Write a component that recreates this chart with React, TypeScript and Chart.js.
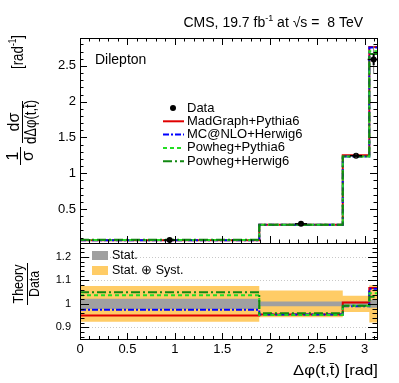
import React, { useEffect, useRef } from "react";
import { Chart, registerables } from "chart.js";

Chart.register(...registerables);

// ---------------- data ----------------
const binEdges = [0, 1.89, 2.77, 3.05, 3.1416];
const dataValues = [0.066, 0.293, 1.245, 2.59];
const dataStatErr = [0.003, 0.006, 0.015, 0.08];
const dataTotErr = [0.005, 0.012, 0.03, 0.19];

const madgraphValues = [0.063, 0.28, 1.253, 2.765];
const mcatnloValues = [0.064, 0.28, 1.233, 2.758];
const powhegPythiaValues = [0.068, 0.279, 1.235, 2.706];
const powhegHerwigValues = [0.069, 0.281, 1.235, 2.668];

const ratioMadGraph = [0.95, 0.955, 1.006, 1.068];
const ratioMCatNLO = [0.975, 0.955, 0.99, 1.065];
const ratioPowhegPythia = [1.037, 0.953, 0.992, 1.045];
const ratioPowhegHerwig = [1.05, 0.96, 0.992, 1.03];

const statErr = [0.022, 0.01, 0.01, 0.017];
const totalErr = [0.076, 0.057, 0.035, 0.08];

const topYTicks = [0.5, 1, 1.5, 2, 2.5];
const ratioYTicks = [0.9, 1, 1.1, 1.2];
const xTicks = [0, 0.5, 1, 1.5, 2, 2.5, 3];

const seriesLabels = ["MadGraph+Pythia6", "MC@NLO+Herwig6", "Powheg+Pythia6", "Powheg+Herwig6"];
const seriesColors = ["#e00000", "#0000ff", "#22dd22", "#118811"];
const seriesDashes: number[][] = [[], [6, 2, 2, 2], [4, 3], [9, 3, 2, 3]];

// ---------------- helpers ----------------
const FONT = '"Liberation Sans", Arial, Helvetica, sans-serif';
const font = (s: number) => `${s}px ${FONT}`;

const stepPoints = (values: number[]) =>
  binEdges.map((e, i) => ({ x: e, y: values[Math.min(i, values.length - 1)] }));
const binCenters = binEdges.slice(0, -1).map((e, i) => (e + binEdges[i + 1]) / 2);

function drawFrame(ctx: CanvasRenderingContext2D, a: any) {
  ctx.save();
  ctx.strokeStyle = "#000";
  ctx.lineWidth = 1;
  ctx.strokeRect(Math.round(a.left) + 0.5, Math.round(a.top) + 0.5, Math.round(a.right - a.left) - 1, Math.round(a.bottom - a.top));
  ctx.restore();
}

function drawTickMarks(
  ctx: CanvasRenderingContext2D,
  chart: any,
  axis: "x" | "y",
  step: number,
  majorEvery: number,
  major: number,
  minor: number,
  sides: string[]
) {
  const a = chart.chartArea;
  const scale = chart.scales[axis];
  const kMin = Math.ceil(scale.min / step - 1e-9);
  const kMax = Math.floor(scale.max / step + 1e-9);
  ctx.save();
  ctx.strokeStyle = "#000";
  ctx.lineWidth = 1;
  ctx.beginPath();
  for (let k = kMin; k <= kMax; k++) {
    const v = k * step;
    const len = k % majorEvery === 0 ? major : minor;
    const p = Math.round(scale.getPixelForValue(v)) + 0.5;
    for (const side of sides) {
      if (side === "top") { ctx.moveTo(p, a.top); ctx.lineTo(p, a.top + len); }
      if (side === "bottom") { ctx.moveTo(p, a.bottom); ctx.lineTo(p, a.bottom - len); }
      if (side === "left") { ctx.moveTo(a.left, p); ctx.lineTo(a.left + len, p); }
      if (side === "right") { ctx.moveTo(a.right - 1, p); ctx.lineTo(a.right - 1 - len, p); }
    }
  }
  ctx.stroke();
  ctx.restore();
}

// draw text centered at cx on baseline y, squeezing horizontally if wider than maxW
function drawFit(ctx: CanvasRenderingContext2D, text: string, cx: number, y: number, maxW: number, size: number) {
  ctx.font = font(size);
  const w = ctx.measureText(text).width;
  const s = Math.min(1, maxW / w);
  ctx.save();
  ctx.translate(cx, y);
  ctx.scale(s, 1);
  ctx.textAlign = "center";
  ctx.textBaseline = "alphabetic";
  ctx.fillText(text, 0, 0);
  ctx.restore();
}

// ---------------- plugins ----------------
const topPlugin = {
  id: "topPanel",
  afterDatasetsDraw(chart: any) {
    const ctx: CanvasRenderingContext2D = chart.ctx;
    const xs = chart.scales.x;
    const ys = chart.scales.y;
    ctx.save();
    for (let i = 0; i < dataValues.length; i++) {
      const px = xs.getPixelForValue(binCenters[i]);
      const py = ys.getPixelForValue(dataValues[i]);
      ctx.strokeStyle = "#777";
      ctx.lineWidth = 1;
      ctx.beginPath();
      ctx.moveTo(px, ys.getPixelForValue(dataValues[i] - dataTotErr[i]));
      ctx.lineTo(px, ys.getPixelForValue(dataValues[i] + dataTotErr[i]));
      ctx.stroke();
      ctx.strokeStyle = "#000";
      ctx.lineWidth = 2;
      ctx.beginPath();
      ctx.moveTo(px, ys.getPixelForValue(dataValues[i] - dataStatErr[i]));
      ctx.lineTo(px, ys.getPixelForValue(dataValues[i] + dataStatErr[i]));
      ctx.stroke();
      ctx.lineWidth = 1.5;
      ctx.beginPath();
      ctx.moveTo(px - 6, py);
      ctx.lineTo(Math.min(px + 6, chart.chartArea.right), py);
      ctx.stroke();
    }
    ctx.restore();
  },
  afterDraw(chart: any) {
    const ctx: CanvasRenderingContext2D = chart.ctx;
    const a = chart.chartArea;
    drawFrame(ctx, a);
    drawTickMarks(ctx, chart, "x", 0.1, 5, 7, 3.5, ["top", "bottom"]);
    drawTickMarks(ctx, chart, "y", 0.1, 5, 7, 3.5, ["left", "right"]);

    ctx.save();
    ctx.fillStyle = "#000";
    // CMS label
    ctx.textBaseline = "alphabetic";
    const p1 = "CMS, 19.7 fb";
    const sup = "-1";
    const p2 = " at \u221As =  8 TeV";
    ctx.font = font(14);
    const w1 = ctx.measureText(p1).width;
    const w3 = ctx.measureText(p2).width;
    ctx.font = font(9);
    const w2 = ctx.measureText(sup).width;
    const right = 363;
    let x = right - (w1 + w2 + w3);
    const by = 26.5;
    ctx.textAlign = "left";
    ctx.font = font(14);
    ctx.fillText(p1, x, by);
    ctx.font = font(9);
    ctx.fillText(sup, x + w1, by - 6);
    ctx.font = font(14);
    ctx.fillText(p2, x + w1 + w2, by);

    // Dilepton
    ctx.font = font(14);
    ctx.fillText("Dilepton", 95, 63.5);

    // legend
    const rowY = [108, 121.3, 134.6, 147.9, 161.2];
    ctx.beginPath();
    ctx.arc(173, rowY[0], 3, 0, Math.PI * 2);
    ctx.fill();
    ctx.font = font(13);
    ctx.textBaseline = "middle";
    ctx.fillText("Data", 187, rowY[0]);
    for (let i = 0; i < seriesLabels.length; i++) {
      const y = rowY[i + 1];
      ctx.strokeStyle = seriesColors[i];
      ctx.lineWidth = 2;
      ctx.setLineDash(seriesDashes[i]);
      ctx.beginPath();
      ctx.moveTo(163, y);
      ctx.lineTo(184, y);
      ctx.stroke();
      ctx.setLineDash([]);
      ctx.fillText(seriesLabels[i], 187, y);
    }

    // y title (rotated)
    ctx.translate(22, 166);
    ctx.rotate(-Math.PI / 2);
    ctx.lineWidth = 1;
    ctx.strokeStyle = "#000";
    // 1/sigma
    ctx.beginPath();
    ctx.moveTo(1, -1.5);
    ctx.lineTo(19, -1.5);
    ctx.stroke();
    drawFit(ctx, "1", 10, -4, 20, 16);
    drawFit(ctx, "\u03C3", 10, 11, 20, 16);
    // dsigma / dDeltaphi
    ctx.beginPath();
    ctx.moveTo(23, 0.5);
    ctx.lineTo(65, 0.5);
    ctx.stroke();
    drawFit(ctx, "d\u03C3", 44, -3, 40, 16);
    drawFit(ctx, "d\u0394\u03C6(t,t\u0304)", 44, 14, 44, 16);
    // [rad^-1]
    ctx.font = font(16);
    const r1 = "[rad";
    const r3 = "]";
    const rw1 = ctx.measureText(r1).width;
    const rw3 = ctx.measureText(r3).width;
    ctx.font = font(10);
    const rw2 = ctx.measureText("-1").width;
    const tot = rw1 + rw2 + rw3;
    const s = Math.min(1, 34 / tot);
    ctx.translate(97, 1);
    ctx.scale(s, 1);
    ctx.textAlign = "left";
    ctx.textBaseline = "alphabetic";
    ctx.font = font(16);
    ctx.fillText(r1, 0, 0);
    ctx.font = font(10);
    ctx.fillText("-1", rw1, -7);
    ctx.font = font(16);
    ctx.fillText(r3, rw1 + rw2, 0);
    ctx.restore();
  },
};

const ratioPlugin = {
  id: "ratioPanel",
  beforeDatasetsDraw(chart: any) {
    const ctx: CanvasRenderingContext2D = chart.ctx;
    const a = chart.chartArea;
    const ys = chart.scales.y;
    ctx.save();
    ctx.strokeStyle = "#c8c8c8";
    ctx.lineWidth = 1;
    ctx.setLineDash([1, 2]);
    for (const v of ratioYTicks) {
      const p = Math.round(ys.getPixelForValue(v)) + 0.5;
      ctx.beginPath();
      ctx.moveTo(a.left, p);
      ctx.lineTo(a.right, p);
      ctx.stroke();
    }
    ctx.restore();
  },
  afterDraw(chart: any) {
    const ctx: CanvasRenderingContext2D = chart.ctx;
    const a = chart.chartArea;
    drawFrame(ctx, a);
    drawTickMarks(ctx, chart, "x", 0.1, 5, 6, 3, ["bottom"]);
    drawTickMarks(ctx, chart, "y", 0.02, 5, 9, 4.5, ["left", "right"]);

    ctx.save();
    // legend
    ctx.fillStyle = "#a0a0a0";
    ctx.fillRect(92, 251, 16, 9);
    ctx.fillStyle = "#ffcc66";
    ctx.fillRect(92, 266, 16, 9);
    ctx.fillStyle = "#000";
    ctx.font = font(12.5);
    ctx.textAlign = "left";
    ctx.textBaseline = "middle";
    ctx.fillText("Stat.", 112, 255.5);
    ctx.fillText("Stat. \u2295 Syst.", 112, 270.5);

    // x title
    ctx.textAlign = "right";
    ctx.textBaseline = "alphabetic";
    ctx.font = font(15);
    const xt = "\u0394\u03C6(t,t\u0304) [rad]";
    const w = ctx.measureText(xt).width;
    ctx.save();
    ctx.translate(378, 375);
    ctx.scale(85 / w, 1);
    ctx.fillText(xt, 0, 0);
    ctx.restore();

    // y title Theory / Data
    ctx.translate(27, 305);
    ctx.rotate(-Math.PI / 2);
    ctx.strokeStyle = "#000";
    ctx.lineWidth = 1;
    ctx.beginPath();
    ctx.moveTo(0, 0.5);
    ctx.lineTo(42, 0.5);
    ctx.stroke();
    drawFit(ctx, "Theory", 21, -4, 39, 15);
    drawFit(ctx, "Data", 21, 12, 26, 15);
    ctx.restore();
  },
};

function commonY(min: number, max: number, ticks: number[], size: number, pad: number) {
  return {
    type: "linear" as const,
    min,
    max,
    afterFit: (s: any) => {
      s.width = 80;
    },
    afterBuildTicks: (s: any) => {
      s.ticks = ticks.map((v) => ({ value: v }));
    },
    ticks: {
      font: { family: FONT, size },
      color: "#000",
      padding: pad,
      callback: (v: any) => String(v),
    },
    grid: { display: false, drawTicks: false },
    border: { display: false },
  };
}

function stepLine(label: string, values: number[], i: number) {
  return {
    type: "line" as const,
    label,
    data: stepPoints(values),
    borderColor: seriesColors[i],
    borderWidth: 2,
    borderDash: seriesDashes[i],
    stepped: true,
    pointRadius: 0,
    fill: false,
  };
}

export default function App() {
  const topRef = useRef<HTMLCanvasElement>(null);
  const ratioRef = useRef<HTMLCanvasElement>(null);

  useEffect(() => {
    const top = new Chart(topRef.current!, {
      type: "line",
      data: {
        datasets: [
          {
            type: "scatter",
            label: "Data",
            data: binCenters.map((x, i) => ({ x, y: dataValues[i] })),
            pointRadius: 3,
            pointBackgroundColor: "#000",
            pointBorderWidth: 0,
            showLine: false,
          } as any,
          stepLine(seriesLabels[3], powhegHerwigValues, 3),
          stepLine(seriesLabels[2], powhegPythiaValues, 2),
          stepLine(seriesLabels[1], mcatnloValues, 1),
          stepLine(seriesLabels[0], madgraphValues, 0),
        ],
      },
      options: {
        responsive: false,
        animation: false,
        devicePixelRatio: 1,
        events: [],
        layout: { padding: { left: 0, right: 21, top: 38, bottom: 140 } },
        plugins: { legend: { display: false }, tooltip: { enabled: false } },
        scales: {
          x: { type: "linear", min: binEdges[0], max: binEdges[binEdges.length - 1], display: false },
          y: commonY(0.025, 2.89, topYTicks, 13, 4) as any,
        },
      },
      plugins: [topPlugin],
    });

    const ratio = new Chart(ratioRef.current!, {
      type: "line",
      data: {
        datasets: [
          stepLine(seriesLabels[3], ratioPowhegHerwig, 3),
          stepLine(seriesLabels[2], ratioPowhegPythia, 2),
          stepLine(seriesLabels[1], ratioMCatNLO, 1),
          stepLine(seriesLabels[0], ratioMadGraph, 0),
          {
            label: "Stat.",
            data: stepPoints(statErr.map((e) => 1 + e)),
            stepped: true,
            borderWidth: 0,
            pointRadius: 0,
            backgroundColor: "#a0a0a0",
            fill: "+1",
          },
          {
            label: "statLow",
            data: stepPoints(statErr.map((e) => 1 - e)),
            stepped: true,
            borderWidth: 0,
            pointRadius: 0,
            fill: false,
          },
          {
            label: "Stat. + Syst.",
            data: stepPoints(totalErr.map((e) => 1 + e)),
            stepped: true,
            borderWidth: 0,
            pointRadius: 0,
            backgroundColor: "#ffcc66",
            fill: "+1",
          },
          {
            label: "totLow",
            data: stepPoints(totalErr.map((e) => 1 - e)),
            stepped: true,
            borderWidth: 0,
            pointRadius: 0,
            fill: false,
          },
        ] as any,
      },
      options: {
        responsive: false,
        animation: false,
        devicePixelRatio: 1,
        events: [],
        layout: { padding: { left: 0, right: 21, top: 243, bottom: 0 } },
        plugins: { legend: { display: false }, tooltip: { enabled: false } },
        scales: {
          x: {
            type: "linear",
            min: binEdges[0],
            max: binEdges[binEdges.length - 1],
            afterFit: (s: any) => {
              s.height = 44;
            },
            afterBuildTicks: (s: any) => {
              s.ticks = xTicks.map((v) => ({ value: v }));
            },
            ticks: {
              font: { family: FONT, size: 13 },
              color: "#000",
              padding: 3,
              autoSkip: false,
              maxRotation: 0,
              callback: (v: any) => String(v),
            },
            grid: { display: false, drawTicks: false },
            border: { display: false },
          },
          y: commonY(0.85, 1.26, ratioYTicks, 11, 9) as any,
        },
      },
      plugins: [ratioPlugin],
    });

    return () => {
      top.destroy();
      ratio.destroy();
    };
  }, []);

  return (
    <div style={{ position: "fixed", left: 0, top: 0, width: 399, height: 383, background: "#fff" }}>
      <canvas ref={topRef} width={399} height={383} style={{ position: "absolute", left: 0, top: 0 }} />
      <canvas ref={ratioRef} width={399} height={383} style={{ position: "absolute", left: 0, top: 0 }} />
    </div>
  );
}
